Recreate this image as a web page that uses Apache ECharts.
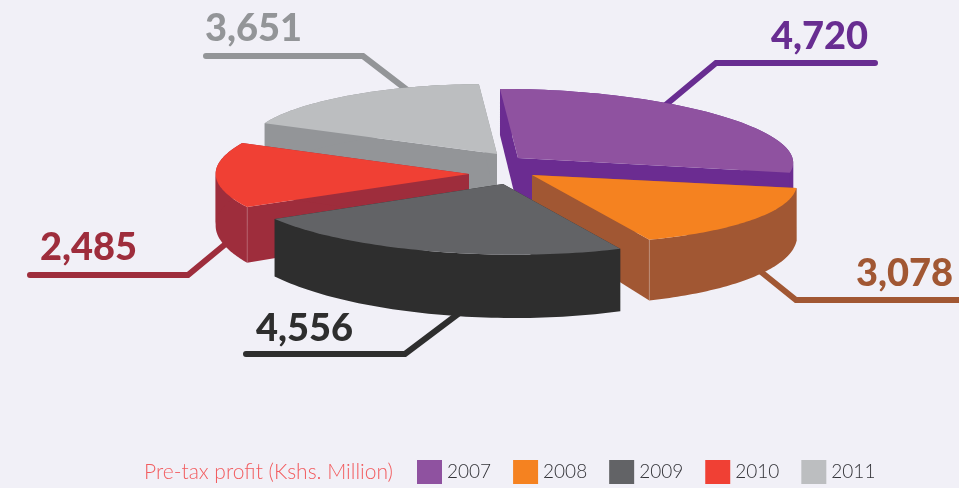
<!DOCTYPE html>
<html>
<head>
<meta charset="utf-8">
<style>html,body{margin:0;padding:0;background:#f1f0f7}#c{width:959px;height:488px}</style>
<script src="https://cdn.jsdelivr.net/npm/echarts@6/dist/echarts.min.js"></script>
</head>
<body>
<div id="c"></div>
<script>
// Pre-tax profit per year, Kshs. million
const years = ['2007', '2008', '2009', '2010', '2011'];
const profit = [4720, 3078, 4556, 2485, 3651];
const legendTitle = 'Pre-tax profit (Kshs. Million)';

const topColors = ['#8f52a0', '#f58220', '#626366', '#f04034', '#bcbec0'];
const wallColors = ['#6b2c91', '#a15733', '#2e2e2e', '#9e2d3c', '#939598'];
const labelColors = ['#682d91', '#a15733', '#2e2e2e', '#9e2d3c', '#939598'];

// Exploded slice placement: apex, start angle, ellipse radii, shear and edge bulge.
const placement = [
  { cx: 518, cy: 158, start: -3.8, a: 272, b: 68, shear: 0.063, bulge: 0.1 },
  { cx: 532, cy: 175, start: 93.8, a: 265, b: 68, shear: 0.032, bulge: 0, seam: 1 },
  { cx: 503, cy: 184, start: 153.1, a: 259, b: 73, shear: -0.002, bulge: -0.04 },
  { cx: 469, cy: 174, start: 244.4, a: 246, b: 78, shear: 0.003, bulge: 0.03, seam: 0 },
  { cx: 497, cy: 154, start: 284.6, a: 240, b: 69, shear: 0.058, bulge: -0.05 }
];
// Leader polylines and label anchors.
const leaders = [
  [[656, 113], [716, 63], [875, 63]],
  [[750, 263], [796, 300], [964, 300]],
  [[470, 305], [405, 354], [246, 354]],
  [[240, 232], [188, 275], [30, 275]],
  [[415, 96], [363, 56], [206, 56]]
];
const labelAt = [[771, 56], [856, 293], [256, 348], [40, 267], [205, 48]];
// Stacking of the slices, back to front: 2007, 2011, 2010, 2008, 2009.
const sliceZ = [1, 4, 5, 3, 2];

const total = profit.reduce(function (s, v) { return s + v; }, 0);
const rad = Math.PI / 180;
// Extrusion grows towards the viewer.
function depthAt(y) {
  const d = y - 89;
  return 46 + 0.03 * d + 0.00045 * d * d;
}

// Cuts the rim where it turns back horizontally, so each wall stays a simple polygon.
function monotonicRuns(pts) {
  const runs = [];
  let run = [pts[0]];
  let dir = 0;
  for (let k = 1; k < pts.length; k++) {
    const d = Math.sign(pts[k][0] - pts[k - 1][0]);
    if (dir && d && d !== dir) {
      runs.push(run);
      run = [pts[k - 1]];
    }
    if (d) dir = d;
    run.push(pts[k]);
  }
  runs.push(run);
  return runs;
}

function renderSlice(i) {
  return function (params, api) {
    const value = api.value(0);
    const p = placement[i];
    const sweep = value / total * 360;
    const steps = 60;
    const arc = [];
    for (let k = 0; k <= steps; k++) {
      const t = k / steps;
      const th = (p.start + sweep * t) * rad;
      const r = 1 + p.bulge * Math.sin(Math.PI * t);
      const x = p.a * Math.sin(th);
      arc.push([p.cx + r * x, p.cy + r * (-p.b * Math.cos(th) + p.shear * x)]);
    }
    const apex = [p.cx, p.cy];
    const drop = function (pt) { return [pt[0], pt[1] + depthAt(pt[1])]; };
    const wall = function (pts) {
      return {
        type: 'polygon',
        shape: { points: pts.concat(pts.slice().reverse().map(drop)) },
        style: { fill: wallColors[i] }
      };
    };
    const children = [
      {
        type: 'polyline',
        shape: { points: leaders[i] },
        style: { stroke: labelColors[i], lineWidth: 6, fill: null, lineCap: 'round', lineJoin: 'miter' }
      },
      {
        type: 'text',
        x: labelAt[i][0],
        y: labelAt[i][1],
        style: {
          text: value.toLocaleString('en-US'),
          fill: labelColors[i],
          font: '900 38px Lato',
          textAlign: 'left',
          textVerticalAlign: 'bottom'
        }
      },
      wall([arc[0], apex]),
      wall([apex, arc[steps]])
    ];
    monotonicRuns(arc).forEach(function (run) { children.push(wall(run)); });
    if (p.seam !== undefined) {
      const q = arc[p.seam ? steps : 0];
      children.push({
        type: 'line',
        shape: { x1: q[0], y1: q[1], x2: q[0], y2: q[1] + depthAt(q[1]) },
        style: { stroke: 'rgba(255,255,255,0.18)', lineWidth: 1 }
      });
    }
    children.push({
      type: 'polygon',
      shape: { points: [apex].concat(arc) },
      style: { fill: topColors[i] }
    });
    return { type: 'group', children: children };
  };
}

const chart = echarts.init(document.getElementById('c'), null, { renderer: 'canvas' });
chart.setOption({
  animation: false,
  backgroundColor: '#f1f0f7',
  title: {
    text: legendTitle,
    left: 144,
    top: 462,
    padding: 0,
    textStyle: { fontFamily: 'Lato', fontWeight: 300, fontSize: 21, color: '#f25c5f' }
  },
  legend: {
    data: years,
    left: 417,
    top: 460,
    padding: 0,
    itemWidth: 25,
    itemHeight: 24,
    itemGap: 22,
    selectedMode: false,
    icon: 'rect',
    textStyle: { fontFamily: 'Lato', fontWeight: 300, fontSize: 19, color: '#333338', padding: [4, 0, 0, 0] }
  },
  series: years.map(function (y, i) {
    return {
      type: 'custom',
      name: y,
      coordinateSystem: 'none',
      z: sliceZ[i],
      silent: true,
      itemStyle: { color: topColors[i] },
      data: [[profit[i]]],
      renderItem: renderSlice(i)
    };
  })
});
</script>
</body>
</html>
